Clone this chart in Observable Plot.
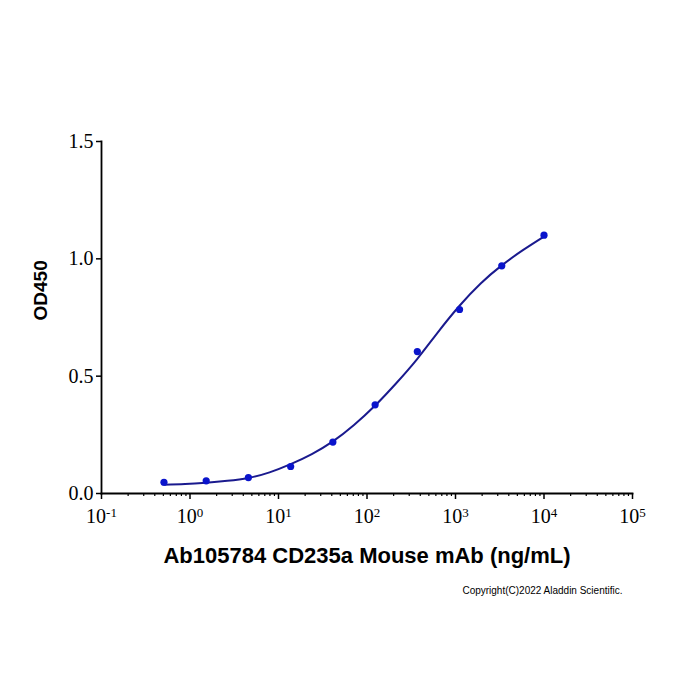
<!DOCTYPE html>
<html>
<head>
<meta charset="utf-8">
<script src="https://cdn.jsdelivr.net/npm/d3@7"></script>
<script src="https://cdn.jsdelivr.net/npm/@observablehq/plot@0.6"></script>
<style>
  html, body { margin: 0; padding: 0; background: #fff; }
  svg { display: block; }
</style>
</head>
<body>
<div id="chart"></div>
<script>
// Measured points (3-fold dilutions)
const doses = [0.508, 1.524, 4.57, 13.72, 41.15, 123.5, 370.4, 1111, 3333, 10000];
const od450 = [0.048, 0.054, 0.068, 0.115, 0.219, 0.378, 0.605, 0.784, 0.970, 1.101];

// Fitted curve
const curveDoses = [0.508, 0.88, 1.524, 2.64, 4.57, 7.92, 13.72, 23.8, 41.15, 71.3, 123.5, 213.8, 370.4, 641.5, 1111, 1925, 3333, 5774, 10000];
const curveOD = [0.037, 0.040, 0.046, 0.054, 0.066, 0.090, 0.125, 0.168, 0.222, 0.292, 0.375, 0.470, 0.574, 0.690, 0.800, 0.895, 0.972, 1.037, 1.095];

const xTicks = [0.1, 1, 10, 100, 1000, 10000, 100000];
const xTickExponents = ["-1", "0", "1", "2", "3", "4", "5"];
const yTicks = [0, 0.5, 1.0, 1.5];
const xMinorTicks = xTicks.slice(0, -1).flatMap(d => [2, 3, 4, 5, 6, 7, 8, 9].map(m => +(d * m).toPrecision(3)));

const xTitle = "Ab105784 CD235a Mouse mAb (ng/mL)";
const yTitle = "OD450";
const copyright = "Copyright(C)2022 Aladdin Scientific.";

const points = doses.map((d, i) => ({dose: d, od: od450[i]}));
const fit = curveDoses.map((d, i) => ({dose: d, od: curveOD[i]}));

const serif = "'Times New Roman', 'Liberation Serif', serif";
const sans = "Arial, 'Liberation Sans', sans-serif";

const chart = Plot.plot({
  width: 700,
  height: 700,
  marginLeft: 101,
  marginRight: 68,
  marginTop: 141,
  marginBottom: 207,
  style: {background: "#fff", color: "#000", fontFamily: serif, fontSize: "20px"},
  x: {type: "log", domain: [0.1, 100000]},
  y: {domain: [0, 1.5]},
  marks: [
    Plot.axisY({ticks: yTicks, tickSize: 5, tickPadding: 3, strokeWidth: 1.5,
      tickFormat: d => d.toFixed(1), label: null, fontSize: 20, fontFamily: serif}),
    Plot.axisX({ticks: xMinorTicks, tickSize: 3, strokeWidth: 1.2, text: null, label: null}),
    Plot.axisX({ticks: xTicks, tickSize: 6, tickPadding: 9, strokeWidth: 1.5,
      tickFormat: d => "10^" + xTickExponents[xTicks.indexOf(d)], label: null, fontSize: 20, fontFamily: serif}),
    Plot.frame({anchor: "left", strokeWidth: 1.8}),
    Plot.frame({anchor: "bottom", strokeWidth: 1.8}),
    Plot.line(fit, {x: "dose", y: "od", stroke: "#1a1a8e", strokeWidth: 2, curve: "natural"}),
    Plot.dot(points, {x: "dose", y: "od", r: 3.6, fill: "#0a14cc", stroke: "none"}),
    Plot.text([xTitle], {text: d => d, frameAnchor: "bottom", dy: 69, fontSize: 22, fontWeight: "bold", fontFamily: sans}),
    Plot.text([yTitle], {text: d => d, frameAnchor: "left", dx: -61, dy: 3, rotate: -90, fontSize: 19, fontWeight: "bold", fontFamily: sans}),
    Plot.text([copyright], {text: d => d, frameAnchor: "bottom-right", textAnchor: "end", dx: -10, dy: 100, fontSize: 10, fontFamily: sans})
  ]
});

// Turn "10^e" tick labels into real superscripts
d3.select(chart).selectAll("text").each(function() {
  const t = this.textContent;
  if (/^10\^/.test(t) && this.childElementCount === 0) {
    const exp = t.split("^")[1];
    const sel = d3.select(this);
    sel.text(null);
    sel.append("tspan").text("10");
    sel.append("tspan").attr("dy", "-0.45em").attr("font-size", "13px").text(exp);
  }
});

document.getElementById("chart").appendChild(chart);
</script>
</body>
</html>
